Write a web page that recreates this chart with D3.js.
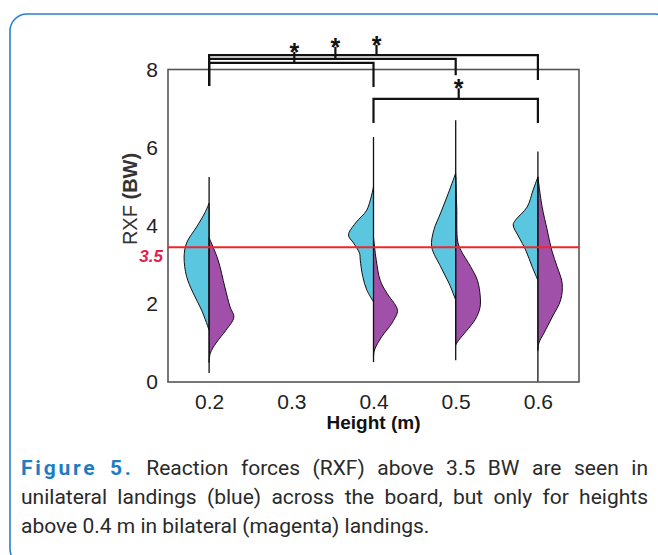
<!DOCTYPE html>
<html><head><meta charset="utf-8">
<script src="https://cdn.jsdelivr.net/npm/d3@7"></script>
<style>body{margin:0;background:#fff}svg{display:block}</style>
</head><body>
<svg id="chart" width="658" height="555"></svg>
<script>
// ---------- data ----------
const heightTicks = [0.2, 0.3, 0.4, 0.5, 0.6];
const yTicks = [0, 2, 4, 6, 8];
const threshold = 3.5;
const violinHeights = [0.2, 0.4, 0.5, 0.6];
// [RXF value (BW), relative density]
const unilateral02 = [[4.58,0],[4.33,0.17],[3.97,0.5],[3.56,0.9],[3.2,1.0],[2.7,0.9],[2.28,0.64],[1.84,0.3],[1.33,0]];
const bilateral02  = [[3.69,0],[3.12,0.36],[2.43,0.63],[1.92,0.84],[1.66,0.99],[1.33,0.68],[1.0,0.28],[0.74,0.05],[0.5,0]];
const unilateral04 = [[5.0,0],[4.4,0.27],[4.07,0.72],[3.76,1.0],[3.56,0.8],[3.3,0.56],[3.12,0.53],[2.7,0.43],[2.36,0.27],[2.05,0]];
const bilateral04  = [[3.7,0],[3.12,0.11],[2.6,0.27],[2.28,0.53],[1.93,0.91],[1.8,0.96],[1.5,0.73],[1.16,0.33],[0.82,0.04],[0.6,0]];
const unilateral05 = [[5.35,0],[4.84,0.29],[4.33,0.6],[3.9,0.87],[3.46,0.96],[2.95,0.6],[2.53,0.27],[2.1,0]];
const bilateral05  = [[5.25,0],[4.5,0.04],[3.6,0.08],[3.38,0.2],[2.95,0.6],[2.6,0.87],[2.2,0.98],[1.9,0.97],[1.6,0.78],[1.3,0.42],[1.07,0.12],[0.95,0]];
const unilateral06 = [[5.25,0],[4.92,0.19],[4.48,0.43],[4.15,0.89],[4.02,0.99],[3.71,0.76],[3.38,0.49],[2.95,0.23],[2.6,0]];
const bilateral06  = [[5.25,0],[4.48,0.17],[3.9,0.37],[3.38,0.55],[2.95,0.77],[2.53,0.97],[2.1,0.91],[1.66,0.57],[1.25,0.24],[1.0,0.04],[0.8,0]];
const ranges = [[0.23,5.25],[0.51,6.27],[0.56,6.7],[0.0,5.9]];
// significance brackets: from, to, bar level, left end, right end, stem top
const sigFrom  = [0.2, 0.2, 0.2, 0.4];
const sigTo    = [0.6, 0.5, 0.4, 0.6];
const sigLevel = [8.37, 8.27, 8.17, 7.25];
const sigLeftEnd  = [7.58, 7.58, 7.58, 6.63];
const sigRightEnd = [7.73, 7.85, 7.55, 6.63];
const sigStemTop  = [8.63, 8.58, 8.45, 7.52];

const captionLabel = "Figure 5.";
const captionLines = [
  "Reaction forces (RXF) above 3.5 BW are seen in",
  "unilateral landings (blue) across the board, but only for heights",
  "above 0.4 m in bilateral (magenta) landings."
];

// ---------- drawing ----------
const svg = d3.select("#chart");
const blue = "#5BC6E0", purple = "#A150A9";
const axisFont = "'Liberation Sans', Arial, sans-serif";

// frame
svg.append("rect").attr("x",10).attr("y",14).attr("width",662).attr("height",552)
  .attr("rx",17).attr("fill","none").attr("stroke","#2b7fd0").attr("stroke-width",1.6);

const pL = 168, pR = 579, pT = 69.5, pB = 382;
const x = d3.scaleLinear().domain([0.15, 0.65]).range([pL, pR]);
const y = d3.scaleLinear().domain([0, 8]).range([pB, pT]);
const w = d3.scaleLinear().domain([0, 1]).range([0, 25]);

const uni = [unilateral02, unilateral04, unilateral05, unilateral06];
const bil = [bilateral02, bilateral04, bilateral05, bilateral06];

const g = svg.append("g");
violinHeights.forEach((h, i) => {
  const cx = x(h);
  const areaL = d3.area().curve(d3.curveCatmullRom.alpha(0.5))
    .y(d => y(d[0])).x0(cx).x1(d => cx - w(d[1]));
  const areaR = d3.area().curve(d3.curveCatmullRom.alpha(0.5))
    .y(d => y(d[0])).x0(cx).x1(d => cx + w(d[1]));
  g.append("path").attr("d", areaL(uni[i])).attr("fill", blue)
    .attr("stroke", "#111").attr("stroke-width", 1);
  g.append("path").attr("d", areaR(bil[i])).attr("fill", purple)
    .attr("stroke", "#111").attr("stroke-width", 1);
  g.append("line").attr("x1", cx).attr("x2", cx)
    .attr("y1", y(ranges[i][0])).attr("y2", y(ranges[i][1]))
    .attr("stroke", "#111").attr("stroke-width", 1.3);
});

// plot box
svg.append("rect").attr("x", pL).attr("y", pT).attr("width", pR-pL).attr("height", pB-pT)
  .attr("fill","none").attr("stroke","#555").attr("stroke-width",1.6);

// threshold line
svg.append("line").attr("x1", pL).attr("x2", pR).attr("y1", y(threshold)+2).attr("y2", y(threshold)+2)
  .attr("stroke", "#F0242B").attr("stroke-width", 2);
svg.append("text").attr("x", 163).attr("y", y(threshold) + 17).attr("text-anchor","end")
  .attr("font-family", axisFont).attr("font-size", 17).attr("font-weight","bold").attr("font-style","italic")
  .attr("fill", "#E3204A").text(threshold);

// axes
const yAxis = d3.axisLeft(y).tickValues(yTicks).tickSize(0).tickPadding(10);
const ya = svg.append("g").attr("transform", `translate(${pL},0)`).call(yAxis);
ya.select(".domain").remove();
ya.selectAll("text").attr("font-family", axisFont).attr("font-size", 21).attr("fill", "#222");
const xAxis = d3.axisBottom(x).tickValues(heightTicks).tickSize(0).tickPadding(12).tickFormat(d3.format(".1f"));
const xa = svg.append("g").attr("transform", `translate(0,${pB})`).call(xAxis);
xa.select(".domain").remove();
xa.selectAll("text").attr("font-family", axisFont).attr("font-size", 21).attr("fill", "#222");

svg.append("text").attr("x", (pL+pR)/2).attr("y", 429).attr("text-anchor","middle")
  .attr("font-family", axisFont).attr("font-size", 19).attr("font-weight","bold").attr("fill","#111")
  .text("Height (m)");
const yl = svg.append("text").attr("transform", "translate(137,199) rotate(-90)").attr("text-anchor","middle")
  .attr("font-family", axisFont).attr("font-size", 20).attr("fill","#333");
yl.append("tspan").text("RXF ");
yl.append("tspan").attr("font-weight","bold").text("(BW)");

// significance brackets
const sg = svg.append("g").attr("stroke", "#111").attr("stroke-width", 2.2).attr("fill","none");
sigFrom.forEach((f, i) => {
  const x1 = x(f), x2 = x(sigTo[i]), ly = y(sigLevel[i]);
  sg.append("path").attr("d", `M${x1},${y(sigLeftEnd[i])}V${ly}H${x2}V${y(sigRightEnd[i])}`);
  const mx = x((f + sigTo[i]) / 2) + 3;
  sg.append("line").attr("x1", mx).attr("x2", mx).attr("y1", ly).attr("y2", y(sigStemTop[i]));
  svg.append("text").attr("x", mx).attr("y", y(sigStemTop[i]) + 9).attr("text-anchor","middle")
    .attr("font-family", axisFont).attr("font-size", 25).attr("font-weight","bold").attr("fill","#111").text("*");
});

// caption (justified)
const capFont = "Roboto, 'Noto Sans', sans-serif";
const capSize = 21, capLeft = 21, capRight = 648, labelSpacing = 2.8;
const baselines = [475, 504, 533];
function measure(str, bold, ls) {
  const t = svg.append("text").attr("font-family", capFont).attr("font-size", capSize)
    .attr("font-weight", bold ? "bold" : "normal").attr("letter-spacing", ls || 0).text(str);
  const l = t.node().getComputedTextLength(); t.remove(); return l;
}
captionLines.forEach((ln, i) => {
  let words = [];
  if (i === 0) captionLabel.split(" ").forEach(s => words.push({t:s, b:true}));
  ln.split(" ").forEach(s => words.push({t:s, b:false}));
  words.forEach(wd => wd.w = measure(wd.t, wd.b, wd.b ? labelSpacing : 0));
  const total = d3.sum(words, d => d.w);
  const normalSpace = measure("a a", false) - measure("aa", false);
  const gap = i < 2 ? (capRight - capLeft - total) / (words.length - 1) : normalSpace;
  let cxp = capLeft;
  words.forEach(wd => {
    svg.append("text").attr("x", cxp).attr("y", baselines[i])
      .attr("font-family", capFont).attr("font-size", capSize)
      .attr("font-weight", wd.b ? "bold" : "normal")
      .attr("letter-spacing", wd.b ? labelSpacing : 0)
      .attr("fill", wd.b ? "#1E7CC4" : "#2a2a2a").text(wd.t);
    cxp += wd.w + gap;
  });
});
</script>
</body></html>
